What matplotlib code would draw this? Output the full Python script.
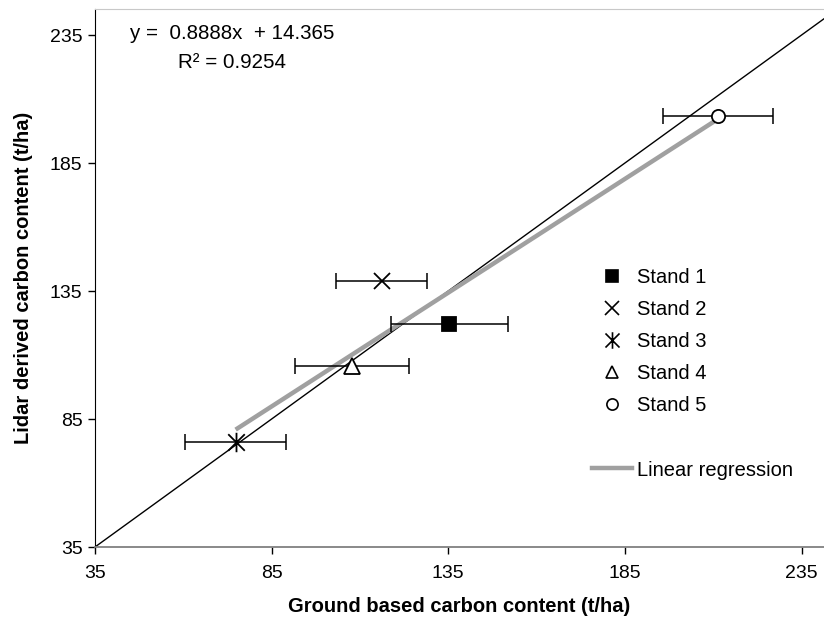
import numpy as np
import matplotlib
matplotlib.use("Agg")
import matplotlib.pyplot as plt
from matplotlib.lines import Line2D
from matplotlib.path import Path

plt.rcParams['font.family'] = ['Liberation Sans', 'DejaVu Sans']

# stand data
stands = ["Stand 1", "Stand 2", "Stand 3", "Stand 4", "Stand 5"]
ground = [135.3, 116.1, 74.8, 107.7, 211.4]
lidar = [122.1, 138.9, 75.9, 105.7, 203.5]
ground_err = [16.5, 13.0, 14.3, 16.2, 15.6]

slope = 0.8888
intercept = 14.365
r2 = 0.9254

ticks = [35, 85, 135, 185, 235]

# Excel style asterisk: an X with a vertical bar through it
star = Path([(-0.85, -0.85), (0.85, 0.85), (-0.85, 0.85), (0.85, -0.85), (0, -1), (0, 1)],
            [Path.MOVETO, Path.LINETO, Path.MOVETO, Path.LINETO, Path.MOVETO, Path.LINETO])

# marker styles for each stand: (marker, size, filled)
styles = [("s", 9.5, True), ("x", 12, False), (star, 14, False),
          ("^", 11, False), ("o", 9.5, False)]

fig = plt.figure(figsize=(8.24, 6.21), dpi=100)
ax = fig.add_axes([95 / 824, 74 / 621, 729 / 824, 538 / 621])

# 1:1 line
ax.plot([35, 260], [35, 260], color="black", lw=1.0, zorder=2)

# regression over the range of the data
xr = np.array([min(ground), max(ground)])
ax.plot(xr, slope * xr + intercept, color="#a0a0a0", lw=3.2,
        solid_capstyle="butt", zorder=3)

handles = []
for name, gx, ly, ge, (mk, ms, filled) in zip(stands, ground, lidar, ground_err, styles):
    ax.errorbar(gx, ly, xerr=ge, fmt="none", ecolor="black", elinewidth=1.1,
                capsize=5.5, capthick=1.1, zorder=4)
    face = "black" if filled else "white"
    ax.plot(gx, ly, linestyle="none", marker=mk, markersize=ms,
            markerfacecolor=face, markeredgecolor="black", markeredgewidth=1.3,
            zorder=5)
    handles.append(Line2D([], [], linestyle="none", marker=mk,
                          markersize=ms * 0.85, markerfacecolor=face,
                          markeredgecolor="black", markeredgewidth=1.2, label=name))

blank = Line2D([], [], linestyle="none", label=" ")
reg_handle = Line2D([], [], color="#a0a0a0", lw=3.2, label="Linear regression")
handles += [blank, reg_handle]

ax.legend(handles=handles, loc="upper left", bbox_to_anchor=(592 / 824, 1 - 268 / 621),
          bbox_transform=fig.transFigure, frameon=False, fontsize=14.5,
          handlelength=2.0, handletextpad=0.22, labelspacing=0.65,
          borderpad=0, borderaxespad=0)

ax.text(0.188, 0.955, "y =  0.8888x  + 14.365", transform=ax.transAxes,
        ha="center", va="center", fontsize=14.8)
ax.text(0.188, 0.9, "R\u00b2 = 0.9254", transform=ax.transAxes,
        ha="center", va="center", fontsize=14.8)

ax.set_xlim(35, 35 + 729 / 3.533)
ax.set_ylim(35, 35 + 538 / 2.56)
ax.set_xticks(ticks)
ax.set_yticks(ticks)
ax.tick_params(axis="both", direction="out", length=5, width=1, labelsize=14,
               color="black")
ax.tick_params(axis="x", pad=8)
ax.tick_params(axis="y", pad=4)

ax.spines["left"].set_color("black")
ax.spines["bottom"].set_color("#808080")
ax.spines["bottom"].set_linewidth(1.3)
ax.spines["top"].set_color("#c8c8c8")
ax.spines["right"].set_visible(False)

ax.set_xlabel("Ground based carbon content (t/ha)", fontsize=14.5, fontweight="bold",
              labelpad=11)
ax.set_ylabel("Lidar derived carbon content (t/ha)", fontsize=14.5, fontweight="bold",
              labelpad=12)

fig.savefig("out.png", dpi=100)
